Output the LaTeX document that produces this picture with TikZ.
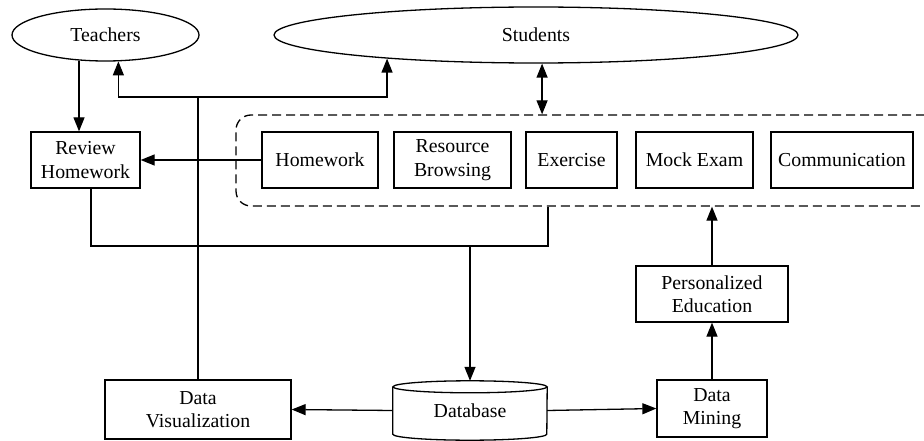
\documentclass[tikz,border=0pt]{standalone}
\usepackage{fontspec}
\setmainfont{Liberation Serif}
\usetikzlibrary{shapes.geometric,arrows.meta}

\begin{document}
\begin{tikzpicture}[x=1pt,y=-1pt,
  every node/.style={font=\fontsize{19.8}{23.5}\selectfont},
  line/.style={line width=1.3pt},
  box/.style={draw, line width=1.3pt, rectangle, inner sep=0pt, align=center, minimum height=56pt},
  actor/.style={draw, line width=1.3pt, ellipse, inner sep=0pt},
  grp/.style={draw, line width=1.3pt, rectangle, rounded corners=15pt, dash pattern=on 9pt off 5pt, inner sep=0pt},
  tip/.style={Triangle[length=14pt,width=11pt]},
  arr/.style={line, -{Triangle[length=14pt,width=11pt]}},
  darr/.style={line, {Triangle[length=14pt,width=11pt]}-{Triangle[length=14pt,width=11pt]}}
]
\useasboundingbox (0,0) rectangle (924,441);

% actors
\node[actor, minimum width=187pt, minimum height=52pt] (teachers) at (105.5,35) {Teachers};
\node[actor, minimum width=524pt, minimum height=56pt] (students) at (536,35) {Students};

% learning activities
\node[grp, minimum width=704pt, minimum height=91pt] (grp) at (588,160.5) {};
\node[box, minimum width=109pt] (rh) at (85.5,160) {Review\\Homework};
\node[box, minimum width=116pt] (hw) at (320,160) {Homework};
\node[box, minimum width=117pt] (rb) at (452.5,160) {Resource\\Browsing};
\node[box, minimum width=91pt] (ex) at (571.5,160) {Exercise};
\node[box, minimum width=117pt] (me) at (694.5,160) {Mock Exam};
\node[box, minimum width=142pt] (co) at (842,160) {Communication};

% analysis
\node[box, minimum width=152pt] (pe) at (712,294) {Personalized\\Education};
\node[box, minimum width=110pt, minimum height=57pt] (dm) at (712,408.5) {Data\\Mining};
\node[box, minimum width=186pt, minimum height=59pt] (dv) at (198,409.5) {Data\\Visualization};

% database cylinder
\node[inner sep=0pt, minimum width=154pt, minimum height=59pt] (db) at (470,410.5) {Database};
\draw[line] ([yshift=-6pt]db.north) ellipse [x radius=77pt, y radius=6pt];
\draw[line] ([yshift=-6pt]db.north west) -- ([yshift=6pt]db.south west)
  arc [start angle=180, end angle=360, x radius=77pt, y radius=6pt]
  -- ([yshift=-6pt]db.north east);

% visualization feedback to actors
\coordinate (j) at (198,97);
\draw[line] (dv.north) -- (j);
\draw[arr] (j) -| (teachers.296.8);
\draw[arr] (j) -| (students.189.7);

% teachers review homework
\draw[arr] (teachers.224.4) -- (teachers.224.4 |- rh.north);
\draw[arr] (hw.west) -- (rh.east);
\draw[darr] (students.282.1) -- (students.282.1 |- grp.north);

% records go to the database
\coordinate (m) at (548,246);
\draw[line] ([xshift=5.5pt]rh.south) |- (m) -- (m |- grp.south);
\draw[arr] (db.north |- m) -- (db.north);

% database outputs
\draw[arr] (db.west) -- (dv.east);
\draw[arr] (db.east) -- (dm.west);
\draw[arr] (dm.north) -- (pe.south);
\draw[arr] (pe.north) -- (pe.north |- grp.south);
\end{tikzpicture}
\end{document}
